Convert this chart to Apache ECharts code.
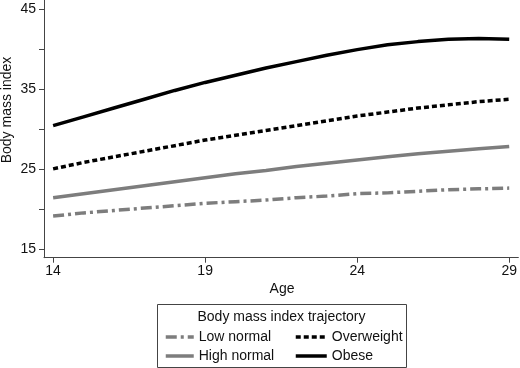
<!DOCTYPE html>
<html>
<head>
<meta charset="utf-8">
<script src="https://cdn.jsdelivr.net/npm/echarts@6/dist/echarts.min.js"></script>
<style>
html,body{margin:0;padding:0;background:#fff;}
#c{width:520px;height:368px;}
</style>
</head>
<body>
<div id="c"></div>
<script>
const ages = [14,15,16,17,18,19,20,21,22,23,24,25,26,27,28,29];
const lowNormal  = [19.1,19.5,19.8,20.1,20.4,20.7,20.9,21.1,21.4,21.6,21.9,22.0,22.2,22.4,22.5,22.6];
const highNormal = [21.4,21.9,22.4,22.9,23.4,23.9,24.4,24.8,25.3,25.7,26.1,26.5,26.9,27.2,27.5,27.8];
const overweight = [25.0,25.8,26.5,27.2,27.9,28.6,29.2,29.8,30.4,31.0,31.6,32.1,32.6,33.0,33.4,33.7];
const obese      = [30.4,31.5,32.6,33.7,34.8,35.8,36.7,37.6,38.4,39.2,39.9,40.5,40.9,41.2,41.3,41.2];
const xTicks = [14,19,24,29];
const yTickLabels = [15,25,35,45];
const yTicks = [15,20,25,30,35,40,45];

const pair = arr => ages.map((a,i)=>[a,arr[i]]);
const font = 'Liberation Sans, Arial, Helvetica, sans-serif';
const gray = '#7d7d7d';
const hideSym = {opacity:0};

const chart = echarts.init(document.getElementById('c'), null, {renderer:'canvas'});
chart.setOption({
  animation:false,
  backgroundColor:'#fff',
  grid:{left:44, right:0, top:0, height:257.7, containLabel:false},
  xAxis:{
    type:'value', min:13.7, max:29.3,
    axisLine:{show:true, onZero:false, lineStyle:{color:'#444', width:1}},
    axisTick:{show:true, length:5, customValues:xTicks, lineStyle:{color:'#444'}},
    axisLabel:{customValues:xTicks, color:'#111', fontSize:14, fontFamily:font, margin:6},
    splitLine:{show:false}
  },
  yAxis:{
    type:'value', min:13.9, max:46.1,
    axisLine:{show:true, onZero:false, lineStyle:{color:'#444', width:1}},
    axisTick:{show:true, length:5, customValues:yTicks, lineStyle:{color:'#444'}},
    axisLabel:{customValues:yTickLabels, color:'#111', fontSize:14, fontFamily:font, margin:8},
    splitLine:{show:false}
  },
  legend:[
    {left:164, top:330, orient:'vertical', padding:0, itemGap:5, itemWidth:28, itemHeight:14,
     itemStyle:hideSym, lineStyle:{width:3.5},
     data:[{name:'Low normal', itemStyle:hideSym},{name:'High normal', itemStyle:hideSym}],
     textStyle:{fontSize:14, fontFamily:font, color:'#111'}},
    {left:294, top:330, orient:'vertical', padding:0, itemGap:5, itemWidth:31, itemHeight:14,
     itemStyle:hideSym, lineStyle:{width:3.5},
     data:[{name:'Overweight', itemStyle:hideSym},{name:'Obese', itemStyle:hideSym}],
     textStyle:{fontSize:14, fontFamily:font, color:'#111'}}
  ],
  graphic:[
    {type:'rect', shape:{x:157.5, y:304.5, width:249, height:63}, style:{fill:'none', stroke:'#444', lineWidth:1}},
    {type:'text', x:281.5, y:317, style:{text:'Body mass index trajectory', fontSize:14, fontFamily:font, fill:'#111', align:'center', verticalAlign:'middle'}},
    {type:'text', x:282, y:289, style:{text:'Age', fontSize:14, fontFamily:font, fill:'#111', align:'center', verticalAlign:'middle'}},
    {type:'text', x:7, y:110, rotation:Math.PI/2, style:{text:'Body mass index', fontSize:14, fontFamily:font, fill:'#111', align:'center', verticalAlign:'middle'}}
  ],
  series:[
    {name:'Low normal', type:'line', data:pair(lowNormal), smooth:false, showSymbol:false, symbol:'none',
     lineStyle:{color:gray, width:3.5, type:[11,4,3,4]}, itemStyle:{color:gray}},
    {name:'High normal', type:'line', data:pair(highNormal), smooth:false, showSymbol:false, symbol:'none',
     lineStyle:{color:gray, width:3.5, type:'solid'}, itemStyle:{color:gray}},
    {name:'Overweight', type:'line', data:pair(overweight), smooth:false, showSymbol:false, symbol:'none',
     lineStyle:{color:'#000', width:3.5, type:[5,3]}, itemStyle:{color:'#000'}},
    {name:'Obese', type:'line', data:pair(obese), smooth:false, showSymbol:false, symbol:'none',
     lineStyle:{color:'#000', width:3.5, type:'solid'}, itemStyle:{color:'#000'}}
  ]
});
</script>
</body>
</html>
